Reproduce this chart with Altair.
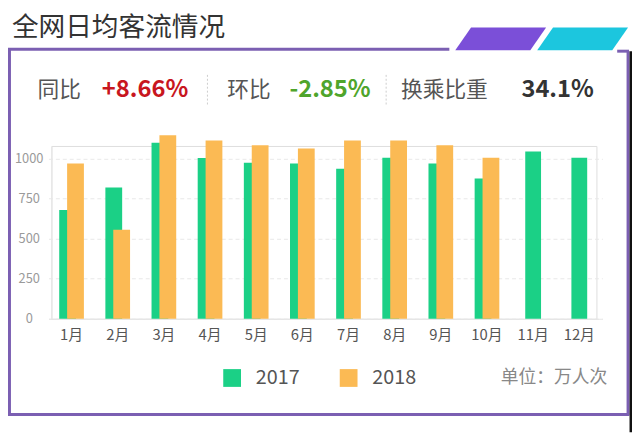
import altair as alt
import pandas as pd

# ---------------- data ----------------
months = ["1月", "2月", "3月", "4月", "5月", "6月", "7月", "8月", "9月", "10月", "11月", "12月"]
v2017 = [680, 820, 1100, 1005, 975, 970, 938, 1006, 971, 876, 1046, 1006]
v2018 = [970, 557, 1147, 1114, 1085, 1064, 1114, 1114, 1085, 1006]
years = ["2017", "2018"]
y_ticks = [0, 250, 500, 750, 1000]

title_text = "全网日均客流情况"
kpi_labels = ["同比", "环比", "换乘比重"]
kpi_values = ["+8.66%", "-2.85%", "34.1%"]
unit_text = "单位：万人次"

# ---------------- styles ----------------
FONT = "Noto Sans CJK SC"
GREEN = "#1bd086"
ORANGE = "#fbba54"
FRAME = "#7b5fb2"
PURPLE = "#7b4fd8"
CYAN = "#1cc6de"
VALUE_COLORS = ["#c8161e", "#4fa52b", "#333333"]

n17 = len(v2018)
df_a = pd.DataFrame({"month": months[:n17], "year": years[0], "value": v2017[:n17]})
df_b = pd.DataFrame({"month": months[:n17], "year": years[1], "value": v2018})
df_c = pd.DataFrame({"month": months[n17:], "year": years[0], "value": v2017[n17:]})

xs = alt.Scale(domain=months, range=[-3, 558], paddingInner=0, paddingOuter=0)
ys = alt.Scale(domain=[0, 1080], nice=False)
cs = alt.Scale(domain=years, range=[GREEN, ORANGE])

x_axis = alt.Axis(title=None, labelAngle=0, ticks=False, domainColor="#e6e6e6",
                  labelColor="#555555", labelFontSize=15, labelPadding=9, grid=False,
                  labelFont=FONT)
y_axis = alt.Axis(title=None, values=y_ticks, format="d", ticks=False, domainColor="#e6e6e6",
                  labelColor="#9a9a9a", labelFontSize=13, labelAlign="center",
                  labelPadding=23, grid=True, gridColor="#e8e8e8", gridDash=[4, 3],
                  labelFont=FONT)
legend = alt.Legend(orient="none", legendX=173, legendY=225, direction="horizontal",
                    title=None, symbolType="square", symbolSize=324, symbolStrokeWidth=0,
                    symbolOpacity=1, labelFontSize=20, labelColor="#555555", labelOffset=14,
                    columnPadding=39, padding=0, labelFont=FONT)


def bars(df, offset, width):
    return alt.Chart(df).mark_bar(width=width, xOffset=offset).encode(
        x=alt.X("month:N", scale=xs, axis=x_axis, sort=months),
        y=alt.Y("value:Q", scale=ys, axis=y_axis),
        color=alt.Color("year:N", scale=cs, legend=legend),
    )


one = pd.DataFrame({"k": [0]})


def txt(text, x, y, size, color, align="left", weight="normal"):
    return alt.Chart(one).mark_text(text=text, align=align, baseline="middle",
                                    fontSize=size, color=color, font=FONT,
                                    fontWeight=weight).encode(x=alt.value(x), y=alt.value(y))


def hrule(x1, x2, y, color, w):
    return alt.Chart(one).mark_rule(color=color, strokeWidth=w).encode(
        x=alt.value(x1), x2=alt.value(x2), y=alt.value(y))


def vrule(x, y1, y2, color, w, dash=None):
    kw = {"strokeDash": dash} if dash else {}
    return alt.Chart(one).mark_rule(color=color, strokeWidth=w, **kw).encode(
        x=alt.value(x), y=alt.value(y1), y2=alt.value(y2))


para = "M -0.30 -0.115 L 0.46 -0.115 L 0.30 0.115 L -0.46 0.115 Z"


def shape(x, y, color):
    return alt.Chart(one).mark_point(shape=para, size=40000, filled=True, color=color,
                                     opacity=1, strokeWidth=0).encode(
        x=alt.value(x), y=alt.value(y))


layers = [
    # frame
    hrule(-44, 403, -98, FRAME, 3),
    vrule(-42.5, -99, 273, FRAME, 3),
    hrule(-44, 585, 272, FRAME, 3),
    vrule(584, -96, 273, FRAME, 3),
    hrule(573, 585, -96, FRAME, 3),
    vrule(587, -96, 290, "#111111", 3),
    shape(455, -108.5, PURPLE),
    shape(538, -108.5, CYAN),
    # header
    txt(title_text, -40, -119, 27, "#333333"),
    txt(kpi_labels[0], -14, -57, 22, "#555555"),
    txt(kpi_values[0], 51, -57, 24, VALUE_COLORS[0], weight="bold"),
    txt(kpi_labels[1], 178, -57, 22, "#555555"),
    txt(kpi_values[1], 241, -57, 24, VALUE_COLORS[1], weight="bold"),
    txt(kpi_labels[2], 354, -57, 22, "#555555"),
    txt(kpi_values[2], 476, -57, 24, VALUE_COLORS[2], weight="bold"),
    vrule(158, -72, -41, "#cccccc", 1, [2, 2]),
    vrule(339, -72, -41, "#cccccc", 1, [2, 2]),
    # bars
    bars(df_a, -4, 17),
    bars(df_b, 4, 17),
    bars(df_c, 0, 16),
    # unit
    txt(unit_text, 563, 235, 18, "#888888", align="right"),
]

chart = alt.layer(*layers).properties(
    width=552, height=175,
    autosize=alt.AutoSizeParams(type="none"),
    padding={"left": 44, "top": 137, "right": 36, "bottom": 115},
    background="white",
).configure_view(stroke=None).configure(font=FONT)

chart.save("out.html", embed_options={"renderer": "svg", "actions": False})
